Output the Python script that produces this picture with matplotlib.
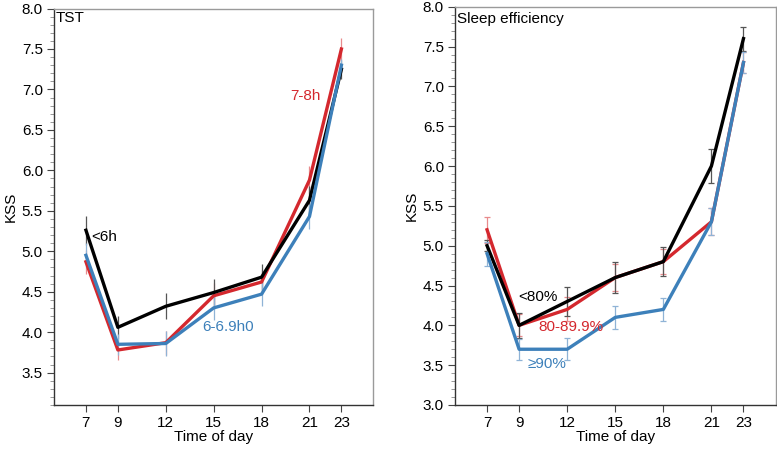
import matplotlib
matplotlib.use("Agg")
import matplotlib.pyplot as plt
from matplotlib.ticker import MultipleLocator

plt.rcParams["font.family"] = ["Liberation Sans", "DejaVu Sans"]

hours = [7, 9, 12, 15, 18, 21, 23]

# TST panel
tst_lt6 = [5.26, 4.06, 4.32, 4.49, 4.68, 5.63, 7.25]
tst_lt6_err = [0.18, 0.14, 0.16, 0.17, 0.16, 0.18, 0.12]
tst_78 = [4.87, 3.78, 3.87, 4.45, 4.62, 5.88, 7.50]
tst_78_err = [0.15, 0.12, 0.15, 0.16, 0.15, 0.17, 0.13]
tst_669 = [4.95, 3.85, 3.86, 4.30, 4.47, 5.43, 7.30]
tst_669_err = [0.15, 0.13, 0.15, 0.15, 0.15, 0.16, 0.08]

# Sleep efficiency panel
se_lt80 = [5.0, 4.0, 4.3, 4.6, 4.8, 6.0, 7.6]
se_lt80_err = [0.07, 0.16, 0.18, 0.19, 0.18, 0.21, 0.15]
se_8090 = [5.2, 4.0, 4.2, 4.6, 4.8, 5.3, 7.3]
se_8090_err = [0.16, 0.14, 0.15, 0.17, 0.16, 0.17, 0.13]
se_ge90 = [4.9, 3.7, 3.7, 4.1, 4.2, 5.3, 7.3]
se_ge90_err = [0.15, 0.13, 0.14, 0.14, 0.14, 0.17, 0.13]

RED = "#d4282e"
BLUE = "#3d80ba"
BLACK = "#000000"
RED_E = "#e88a8c"
BLUE_E = "#8fb3d6"
BLACK_E = "#555555"
FS = 11

fig = plt.figure(figsize=(7.77, 4.49), dpi=100)
ax1 = fig.add_axes([0.0695, 0.098, 0.411, 0.883])
ax2 = fig.add_axes([0.5856, 0.098, 0.4125, 0.887])


def style(ax, ymin):
    ax.set_xlim(5, 25)
    ax.set_ylim(ymin, 8.0)
    ax.set_xticks(hours)
    ax.yaxis.set_major_locator(MultipleLocator(0.5))
    ax.yaxis.set_minor_locator(MultipleLocator(0.1))
    ax.yaxis.set_major_formatter(matplotlib.ticker.FormatStrFormatter("%.1f"))
    ax.tick_params(axis="both", which="major", direction="out", length=5,
                   width=0.8, labelsize=FS, color="#444444", pad=3)
    ax.tick_params(axis="y", which="minor", direction="out", length=3,
                   width=0.6, color="#888888")
    for s in ["top", "right"]:
        ax.spines[s].set_color("#9a9a9a")
        ax.spines[s].set_linewidth(1.0)
    for s in ["left", "bottom"]:
        ax.spines[s].set_color("#333333")
        ax.spines[s].set_linewidth(1.0)
    ax.set_xlabel("Time of day", fontsize=FS, labelpad=0)
    ax.set_ylabel("KSS", fontsize=FS, labelpad=3)


def series(ax, y, err, col, ecol, cap):
    ax.errorbar(hours, y, yerr=err, fmt="none", ecolor=ecol, elinewidth=0.9,
                capsize=cap, capthick=0.9, zorder=2)
    ax.plot(hours, y, color=col, lw=2.4, zorder=3)


# left panel
series(ax1, tst_78, tst_78_err, RED, RED_E, 0)
series(ax1, tst_lt6, tst_lt6_err, BLACK, BLACK_E, 0)
series(ax1, tst_669, tst_669_err, BLUE, BLUE_E, 0)
style(ax1, 3.1)
ax1.text(5.1, 7.88, "TST", fontsize=FS, va="center", ha="left")
ax1.text(7.35, 5.18, "<6h", fontsize=FS, va="center", ha="left", color=BLACK)
ax1.text(19.8, 6.92, "7-8h", fontsize=FS, va="center", ha="left", color=RED)
ax1.text(14.3, 4.07, "6-6.9h0", fontsize=FS, va="center", ha="left", color=BLUE)

# right panel
series(ax2, se_8090, se_8090_err, RED, RED_E, 2)
series(ax2, se_lt80, se_lt80_err, BLACK, BLACK_E, 2)
series(ax2, se_ge90, se_ge90_err, BLUE, BLUE_E, 2)
style(ax2, 3.0)
ax2.text(5.15, 7.85, "Sleep efficiency", fontsize=FS, va="center", ha="left")
ax2.text(8.95, 4.35, "<80%", fontsize=FS, va="center", ha="left", color=BLACK)
ax2.text(10.2, 3.98, "80-89.9%", fontsize=FS, va="center", ha="left", color=RED)
ax2.text(9.5, 3.52, "≥90%", fontsize=FS, va="center", ha="left", color=BLUE)

fig.savefig("out.png", dpi=100, facecolor="white")
